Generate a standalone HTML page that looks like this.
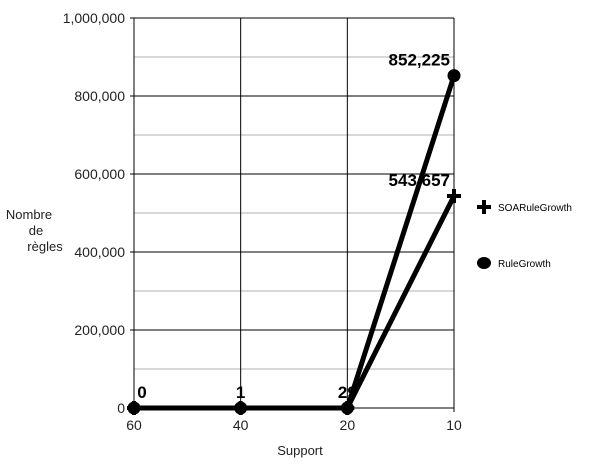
<!DOCTYPE html>
<html><head><meta charset="utf-8"><style>
body{margin:0;background:#fff;font-family:"Liberation Sans",sans-serif}
</style></head><body>
<svg width="600" height="463" xmlns="http://www.w3.org/2000/svg" id="chart" font-family="Liberation Sans, sans-serif"></svg>
<script>
const categories=["60","40","20","10"];
const soaValues=[0,1,29,543657];
const ruleValues=[0,1,29,852225];
const yTicks=[0,200000,400000,600000,800000,1000000];
const yTickLabels=["0","200,000","400,000","600,000","800,000","1,000,000"];
const NS="http://www.w3.org/2000/svg";
const svg=document.getElementById('chart');
const X0=134,X1=454,Y0=408,Y1=18;
function xs(i){return X0+(X1-X0)*i/(categories.length-1);}
function ys(v){return Y0-(Y0-Y1)*v/1000000;}
function mk(tag,attrs,parent){const e=document.createElementNS(NS,tag);for(const k in attrs)e.setAttribute(k,attrs[k]);(parent||svg).appendChild(e);return e;}
for(let v=100000;v<1000000;v+=200000){const l=mk('line',{x1:X0,x2:X1,y1:ys(v),y2:ys(v),stroke:'#b0b0b0','stroke-width':1});

}
yTicks.forEach((v,i)=>{const l=mk('line',{x1:X0-4,x2:X1,y1:ys(v),y2:ys(v),stroke:'#000','stroke-width':1});


const t=mk('text',{x:125,y:ys(v)+5,'text-anchor':'end','font-size':14,fill:'#222'});t.textContent=yTickLabels[i];

});
categories.forEach((c,i)=>{const l=mk('line',{x1:xs(i),x2:xs(i),y1:Y1,y2:Y0+4,stroke:'#000','stroke-width':1});


const t=mk('text',{x:xs(i),y:430,'text-anchor':'middle','font-size':14,fill:'#222'});t.textContent=c;

});
function series(vals,name){const p=mk('polyline',{points:vals.map((v,i)=>xs(i)+','+ys(v)).join(' '),fill:'none',stroke:'#000','stroke-width':5,'stroke-linejoin':'round'});

}
series(soaValues,'soarulegrowth');series(ruleValues,'rulegrowth');
soaValues.forEach((v,i)=>{const g=mk('path',{d:`M${xs(i)-7},${ys(v)}h14M${xs(i)},${ys(v)-7}v14`,stroke:'#000','stroke-width':4});

});
ruleValues.forEach((v,i)=>{const c=mk('circle',{cx:xs(i),cy:ys(v),r:6.5,fill:'#000'});

});
function fmt(v){return v.toLocaleString('en-US');}
function label(v,i){const t=mk('text',{x:xs(i)+(i==0?8:i==3?-4:0),y:ys(v)-10,'text-anchor':i==0?'middle':i==3?'end':'middle','font-size':17,'font-weight':'bold',fill:'#000'});t.textContent=fmt(v);

}
ruleValues.forEach((v,i)=>label(v,i));
label(soaValues[3],3);
const lg=[['SOARuleGrowth',207,'plus'],['RuleGrowth',263,'circle']];
lg.forEach(([n,y,k])=>{const g=mk('g',{});


if(k=='plus')mk('path',{d:`M477,${y}h14M484,${y-7}v14`,stroke:'#000','stroke-width':4},g);
else mk('ellipse',{cx:484,cy:y,rx:7,ry:6,fill:'#000'},g);
const t=mk('text',{x:498,y:y+4,'font-size':10,fill:'#000'},g);t.textContent=n;});
const yt=mk('text',{'text-anchor':'middle','font-size':13,fill:'#222'});


[['Nombre',29,219],['de',36,235],['règles',45,251]].forEach(([s,x,y])=>{const ts=mk('tspan',{x:x,y:y},yt);ts.textContent=s;});
const xt=mk('text',{x:300,y:455,'text-anchor':'middle','font-size':13,fill:'#222'});xt.textContent='Support';


</script>
</body></html>
